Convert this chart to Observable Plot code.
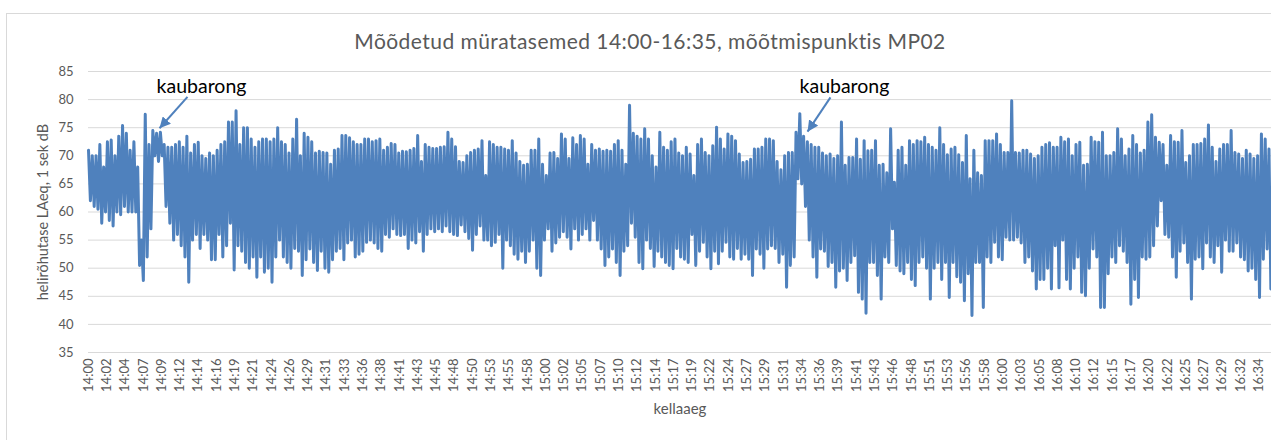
<!DOCTYPE html>
<html><head><meta charset="utf-8">
<script src="https://cdn.jsdelivr.net/npm/d3@7"></script>
<script src="https://cdn.jsdelivr.net/npm/@observablehq/plot@0.6"></script>
<style>
body{margin:0;background:#fff;overflow:hidden;font-family:Lato,"Open Sans",sans-serif;}
#wrap{position:relative;width:1271px;height:440px;overflow:hidden;}
#frame{position:absolute;left:6px;top:13px;width:1400px;height:600px;border:1px solid #d9d9d9;box-sizing:border-box;}
#title{position:absolute;left:0;width:1300px;top:28px;text-align:center;font-size:21px;letter-spacing:0.45px;color:#595959;line-height:26px;white-space:nowrap;}
#chart{position:absolute;left:0;top:56px;}
</style></head><body>
<div id="wrap"><div id="frame"></div><div id="title"></div><div id="chart"></div></div>
<script>
const chartTitle = "Mõõdetud müratasemed 14:00-16:35, mõõtmispunktis MP02";
const yTitle = "helirõhutase LAeq, 1 sek dB";
const xTitle = "kellaaeg";
const yTicks = [35, 40, 45, 50, 55, 60, 65, 70, 75, 80, 85];
const xLabels = ["14:00","14:02","14:04","14:07","14:09","14:12","14:14","14:16","14:19","14:21","14:24","14:26","14:29","14:31","14:33","14:36","14:38","14:41","14:43","14:45","14:48","14:50","14:53","14:55","14:58",
"15:00","15:02","15:05","15:07","15:10","15:12","15:14","15:17","15:19","15:22","15:24","15:27","15:29","15:31","15:34","15:36","15:39","15:41","15:43","15:46","15:48","15:51","15:53","15:56","15:58",
"16:00","16:03","16:05","16:08","16:10","16:12","16:15","16:17","16:20","16:22","16:25","16:27","16:29","16:32","16:34"];
const TICK_STEP_S = 145;   // seconds between category labels
const SAMPLE_STEP_S = 30;  // seconds per (max,min) pair
// upper envelope of the 1 s LAeq trace, per 30 s, dB
const levelMax = [
71,70,70,72,68,72.5,72.8,70,73.5,75.4,74,71,72.5,68,55,77.4,72,74.5,74,74.2,72,71.5,71.5,72,72.5,71.5,73.5,70.5,72,72.4,70,69.5,70.5,70,71,72,72.5,76,76,78,72,75,75,73,71.5,72.5,73,73,72.5,73,75,
72.5,72,70.5,73,76.5,70,74,73.3,72.5,70.5,70.8,70.6,70.5,68.5,71,71.2,73.6,73.6,73.2,72.5,72,72,73,73,72.5,72.7,73,71,71.5,72.2,72,70.5,70.8,70.7,71,71.3,73.6,69,72,71.5,71.3,71.3,71.5,71.6,74.2,73,71.6,69,68.8,70,
70.6,71,71.2,72.7,66.5,72.5,72,71.5,71.5,71.2,71,72.7,70.5,69,68.3,68.5,71,71,73,68.5,66.5,70.5,70.6,69.5,73.9,73,69.5,73.2,72,73.6,73,68.5,72,71,71.2,70.8,71,70.8,72,72.7,71,68.5,79,74,73.5,73,74.8,73,70,68,
74.2,71.5,71,72.5,73,70.5,70,71.5,70.3,66.5,72,73,70.6,70,71.8,75.1,73,71.2,73.9,73.5,72.7,70.3,68.8,69,69.4,71.2,71.2,71.5,73,73,72.7,69,67.5,70,70.6,70.6,74.2,77.5,73.5,72.5,72,71.5,71.5,70.5,70,70.3,69.5,70,76,68.3,
69.7,69.7,73,69.4,72.7,70.9,71,72.7,68.3,68.5,67,74.8,65.3,71,71.5,68.3,72.7,72,72.7,72.5,73.3,72,71.5,71,75,72,70.2,71.2,71.5,70.2,68.8,73.6,65.9,71,67,66.5,72.7,72.7,72.7,73.9,72,70.6,70.6,79.8,70.6,70.5,71,71,70.3,69.5,70,
71.5,72,72.3,71.5,71.5,73.3,72.5,73,70,72,72.4,68.3,68.5,73.3,72.5,72.4,74.2,70,70,70.6,74.8,73,70,71.2,73.6,72,70.5,71,76,77.3,73.3,72.4,72,68.3,73.6,72.5,72.4,74.5,68.8,70,72,72,72.2,73,75.5,71.5,69,71.2,72,72,74.5,70.6,70.3,69.5,71,70.3,69.5,70,73.9,73,71.2
];
// lower envelope of the same trace, per 30 s, dB
const levelMin = [
62,61,60.5,58,60,58.5,57.5,60,59.5,61,60,60,60,50.5,47.8,52,57,70,69,70,61,58,55,56,54,52,47.5,55,56,53.5,56,55,51.5,51.5,56,52,54,58,49.7,54,53,51,50,52,48.4,52,49.3,50,47.5,52,55,
52,51,50,53.5,53,48.7,51.5,53.4,51,49.6,53,50,49.3,51.5,53,53.5,51.5,54.5,55,52,52.5,53,54.6,55,54.5,53.5,53,56,55.5,57,56,55.8,56,53.5,55,54.5,56.5,53,56,57,56.5,57,56.5,57.5,56.5,56,55.8,57.7,56.5,55.3,
53.2,56,57.5,55,55,54,54.6,56,50,55,54,52.5,51.6,53,51,53,55,50,48.7,55,57,53,54.5,55.5,56.5,55.5,53.4,57,55,56,57,55,58.5,55,53.4,50.5,52,53.4,51,48.7,53,54,58,55.5,51,49.9,55,53.5,50.3,53,
52,51,50.5,49.9,53.5,52,51.6,51,56,50.5,53,54.6,52,49.9,53,50.8,53,54.6,52,51.6,53.5,51.6,52.5,51.6,48.7,53.4,52.5,50,53.4,54,53.5,51,52.5,46.6,50.5,52,65.9,65,61,55,52,48.4,53.4,53,50.3,51,46.6,49.5,50,47.8,
51,52.2,45.7,44.5,42,51,51,48.7,44.5,52,51,57,50.5,49.5,49,51,48,46.9,51,52,50,44.5,50,51,48,51,44.8,51,48.5,47.5,44.2,49,41.6,51,51,43,52,51,54.6,52,51.5,55.5,55,55,55.5,54.5,51,52,49.5,46.3,48,
48,50,46.3,54,46.5,55,48,46.3,50,52,45.7,45.1,50,53.4,52,43,43,49,52,51,54,53,51,43.6,48,44.8,52,51.6,52,54,57.5,62,56,55.5,52,48.4,53,54.5,51,44.5,51.6,52,49.9,54.5,52,51,54,49.3,55,53,53,54.5,52,51.5,49.5,50,48,44.8,51.6,53.4,46.3
];
// annotations (time in s from 14:00, level in dB)
const noteLabels = ["kaubarong", "kaubarong"];
const noteTextT = [896, 5994];
const noteTextV = [82.3, 82.3];
const arrowFromT = [785, 5883];
const arrowFromV = [80.5, 80.4];
const arrowToT = [563, 5701];
const arrowToV = [74.9, 74.3];

document.getElementById("title").textContent = chartTitle;

const series = [];
levelMax.forEach((h, i) => {
  series.push({t: i * SAMPLE_STEP_S, v: h});
  series.push({t: i * SAMPLE_STEP_S + SAMPLE_STEP_S / 2, v: levelMin[i]});
});
const tickTimes = xLabels.map((_, i) => i * TICK_STEP_S);
const labelByTime = new Map(tickTimes.map((t, i) => [t, xLabels[i]]));
const notes = noteLabels.map((l, i) => ({label: l, t: noteTextT[i], v: noteTextV[i]}));
const arrows = noteLabels.map((l, i) => ({t1: arrowFromT[i], v1: arrowFromV[i], t2: arrowToT[i], v2: arrowToV[i]}));

function filledArrow(color) {
  const m = d3.create("svg:marker")
    .attr("viewBox", "-10 -5 10 10")
    .attr("markerUnits", "userSpaceOnUse")
    .attr("markerWidth", 11).attr("markerHeight", 11)
    .attr("orient", "auto").attr("refX", 0).attr("refY", 0);
  m.append("path").attr("d", "M-10,-5L0,0L-10,5Z").attr("fill", color).attr("stroke", "none");
  return m.node();
}

const blue = "#4f81bd";
const chart = Plot.plot({
  width: 1271, height: 384,
  marginLeft: 88, marginRight: 0, marginTop: 15, marginBottom: 88,
  style: {fontFamily: "Lato, 'Open Sans', sans-serif", fontSize: "13px", color: "#595959", background: "transparent", overflow: "visible"},
  x: {domain: [0, 9380], axis: null},
  y: {domain: [35, 85], axis: null},
  marks: [
    Plot.gridY(yTicks, {stroke: "#d9d9d9", strokeOpacity: 1, strokeWidth: 1}),
    Plot.axisY(yTicks, {tickSize: 0, tickPadding: 15, fontSize: 13, fill: "#595959", label: null}),
    Plot.axisX(tickTimes, {tickSize: 0, tickPadding: 6, tickRotate: -90, tickFormat: d => labelByTime.get(d), fontSize: 13, fill: "#595959", label: null}),
    Plot.text([yTitle], {frameAnchor: "left", textAnchor: "middle", dx: -45, rotate: -90, fontSize: 14.5, fill: "#595959"}),
    Plot.text([xTitle], {frameAnchor: "bottom", textAnchor: "middle", dy: 61, fontSize: 15, fill: "#595959"}),
    Plot.lineY(series, {x: "t", y: "v", stroke: blue, strokeWidth: 3, strokeLinejoin: "round", curve: "linear"}),
    Plot.link(arrows, {x1: "t1", y1: "v1", x2: "t2", y2: "v2", stroke: blue, strokeWidth: 2, markerEnd: filledArrow}),
    Plot.text(notes, {x: "t", y: "v", text: "label", fontSize: 19.5, fill: "#000"})
  ]
});
document.getElementById("chart").appendChild(chart);
</script>
</body></html>
